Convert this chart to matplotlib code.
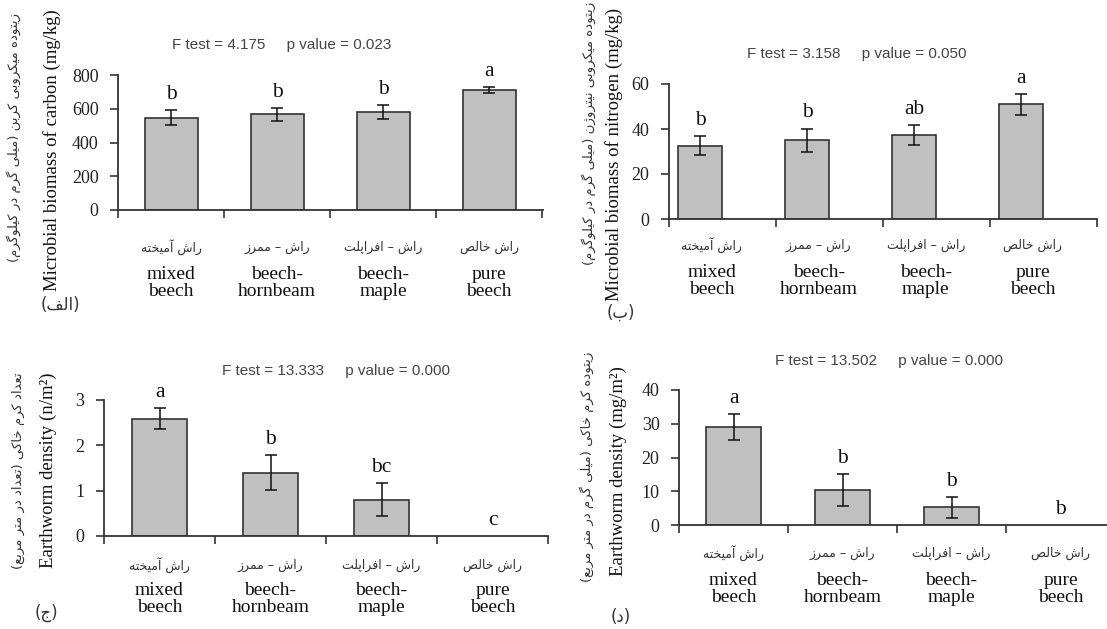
import numpy as np
import matplotlib
matplotlib.use("Agg")
import matplotlib.pyplot as plt
import matplotlib.transforms as mtransforms

## data
groups_en = ["mixed\nbeech", "beech-\nhornbeam", "beech-\nmaple", "pure\nbeech"]
groups_fa = ["راش آمیخته", "راش – ممرز", "راش – افراپلت", "راش خالص"]

carbon = [547, 567, 581, 712]
carbon_err = [45, 38, 40, 18]
carbon_letters = ["b", "b", "b", "a"]

nitrogen = [32.6, 35.1, 37.2, 51.0]
nitrogen_err = [4.2, 5.1, 4.5, 4.6]
nitrogen_letters = ["b", "b", "ab", "a"]

density = [2.59, 1.40, 0.80, 0.0]
density_err = [0.24, 0.39, 0.36, 0.0]
density_letters = ["a", "b", "bc", "c"]

worm_mass = [29.1, 10.4, 5.3, 0.0]
worm_mass_err = [3.9, 4.7, 3.1, 0.0]
worm_mass_letters = ["a", "b", "b", "b"]

ftests = ["F test = 4.175     p value = 0.023",
          "F test = 3.158     p value = 0.050",
          "F test = 13.333     p value = 0.000",
          "F test = 13.502     p value = 0.000"]

ylabels_en = ["Microbial biomass of carbon (mg/kg)",
              "Microbial biomass of nitrogen (mg/kg)",
              "Earthworm density (n/m²)",
              "Earthworm density (mg/m²)"]
ylabels_fa = ["زیتوده میکروبی کربن (میلی گرم در کیلوگرم)",
              "زیتوده میکروبی نیتروژن (میلی گرم در کیلوگرم)",
              "تعداد کرم خاکی (تعداد در متر مربع)",
              "زیتوده کرم خاکی (میلی گرم در متر مربع)"]
panel_tags = ["(الف)", "(ب)", "(ج)", "(د)"]

yticks = [[0, 200, 400, 600, 800], [0, 20, 40, 60], [0, 1, 2, 3], [0, 10, 20, 30, 40]]

## small persian shaper (matplotlib has no arabic shaping)
## forms: isolated, final, initial, medial
FORMS = {
    'ا': ('\uFE8D', '\uFE8E', None, None),
    'آ': ('\uFE81', '\uFE82', None, None),
    'ب': ('\uFE8F', '\uFE90', '\uFE91', '\uFE92'),
    'پ': ('\uFB56', '\uFB57', '\uFB58', '\uFB59'),
    'ت': ('\uFE95', '\uFE96', '\uFE97', '\uFE98'),
    'ج': ('\uFE9D', '\uFE9E', '\uFE9F', '\uFEA0'),
    'خ': ('\uFEA5', '\uFEA6', '\uFEA7', '\uFEA8'),
    'د': ('\uFEA9', '\uFEAA', None, None),
    'ر': ('\uFEAD', '\uFEAE', None, None),
    'ز': ('\uFEAF', '\uFEB0', None, None),
    'ژ': ('\uFB8A', '\uFB8B', None, None),
    'ش': ('\uFEB5', '\uFEB6', '\uFEB7', '\uFEB8'),
    'ص': ('\uFEB9', '\uFEBA', '\uFEBB', '\uFEBC'),
    'ع': ('\uFEC9', '\uFECA', '\uFECB', '\uFECC'),
    'ف': ('\uFED1', '\uFED2', '\uFED3', '\uFED4'),
    'ک': ('\uFB8E', '\uFB8F', '\uFB90', '\uFB91'),
    'گ': ('\uFB92', '\uFB93', '\uFB94', '\uFB95'),
    'ل': ('\uFEDD', '\uFEDE', '\uFEDF', '\uFEE0'),
    'م': ('\uFEE1', '\uFEE2', '\uFEE3', '\uFEE4'),
    'ن': ('\uFEE5', '\uFEE6', '\uFEE7', '\uFEE8'),
    'ه': ('\uFEE9', '\uFEEA', '\uFEEB', '\uFEEC'),
    'و': ('\uFEED', '\uFEEE', None, None),
    'ی': ('\uFBFC', '\uFBFD', '\uFBFE', '\uFBFF'),
}

def fa(text):
    out = []
    for i, ch in enumerate(text):
        if ch not in FORMS:
            out.append(ch)
            continue
        prev = text[i - 1] if i > 0 else ''
        nxt = text[i + 1] if i + 1 < len(text) else ''
        jp = prev in FORMS and FORMS[prev][2] is not None
        jn = FORMS[ch][2] is not None and nxt in FORMS
        iso, fin, ini, med = FORMS[ch]
        if jp and jn:
            out.append(med)
        elif jp:
            out.append(fin)
        elif jn:
            out.append(ini)
        else:
            out.append(iso)
    s = ''.join(reversed(out))
    return s.translate(str.maketrans('()', ')('))

## figure in pixel units
W, H = 1107, 629
fig = plt.figure(figsize=(W / 100, H / 100), dpi=100)

def fx(px):
    return px / W

def fy(py):
    return 1 - py / H

SERIF = "Liberation Serif"
SANS = "Liberation Sans"
FAFONT = "DejaVu Sans"

## layout per panel: left, right, top, bottom (px), category width (px), bar offset, bar width
panels = [
    dict(l=118, r=543, t=75, b=210, cw=106, off=0.0, bw=0.5,
         ft=(282, 45), fa_y=247, en_y=283, lab_fa=(14, 137), lab_en=(52, 150), tag=(60, 305), lab_off=0.0),
    dict(l=669, r=1097, t=84, b=219, cw=111, off=-0.21, bw=0.41,
         ft=(857, 54), fa_y=245, en_y=281, lab_fa=(589, 133), lab_en=(614, 154), tag=(621, 313), lab_off=-0.1),
    dict(l=104, r=548, t=400, b=536, cw=111, off=0.0, bw=0.5,
         ft=(336, 371), fa_y=565, en_y=599, lab_fa=(18, 471), lab_en=(48, 470), tag=(46, 613), lab_off=0.0),
    dict(l=679, r=1115, t=390, b=525, cw=109, off=0.0, bw=0.5,
         ft=(889, 361), fa_y=553, en_y=589, lab_fa=(587, 467), lab_en=(618, 471), tag=(621, 617), lab_off=0.0),
]

values = [carbon, nitrogen, density, worm_mass]
errors = [carbon_err, nitrogen_err, density_err, worm_mass_err]
letters = [carbon_letters, nitrogen_letters, density_letters, worm_mass_letters]

for k in range(4):
    p = panels[k]
    ax = fig.add_axes([fx(p['l']), fy(p['b']), fx(p['r'] - p['l']), (p['b'] - p['t']) / H])
    x = np.arange(4)
    v = np.array(values[k])
    e = np.array(errors[k])

    ## zero-height bars are not drawn in the original
    nz = v > 0
    ax.bar(x[nz] + p['off'], v[nz], width=p['bw'], color="#c0c0c0", edgecolor="#333333",
           linewidth=1.2, zorder=2)
    m = e > 0
    ax.errorbar(x[m] + p['off'], v[m], yerr=e[m], fmt="none", ecolor="#111111",
                elinewidth=1.1, capsize=4, capthick=1.1, zorder=3)

    for i in range(4):
        ax.annotate(letters[k][i], (x[i] + p['off'], v[i] + e[i]), xytext=(0, 8),
                    textcoords="offset points", ha="center", va="baseline",
                    fontsize=15.5, family=SERIF, color="#111111")

    ax.set_xlim(-0.5, -0.5 + (p['r'] - p['l']) / p['cw'])
    ax.set_ylim(0, yticks[k][-1])
    ax.set_yticks(yticks[k])
    ax.set_yticklabels([str(t) for t in yticks[k]], family=SERIF, fontsize=13, color="#222222")
    ax.set_xticks([-0.5, 0.5, 1.5, 2.5, 3.5])
    ax.set_xticklabels([])
    ax.tick_params(axis="y", direction="out", length=6, width=1.2, pad=8, color="#333333")
    ax.tick_params(axis="x", direction="out", length=6, width=1.2, color="#333333")
    for s in ["top", "right"]:
        ax.spines[s].set_visible(False)
    for s in ["left", "bottom"]:
        ax.spines[s].set_linewidth(1.3)
        ax.spines[s].set_color("#333333")

    ## category labels below axis
    tr = mtransforms.blended_transform_factory(ax.transData, fig.transFigure)
    for i in range(4):
        ax.text(x[i] + p['lab_off'], fy(p['fa_y']), fa(groups_fa[i]), transform=tr,
                ha="center", va="center", fontsize=9, family=FAFONT, color="#333333")
        ax.text(x[i] + p['lab_off'], fy(p['en_y']), groups_en[i], transform=tr,
                ha="center", va="center", fontsize=14, family=SERIF, color="#111111",
                linespacing=1.0)

    ## test statistic line
    fig.text(fx(p['ft'][0]), fy(p['ft'][1]), ftests[k], ha="center", va="center",
             fontsize=11, family=SANS, color="#444444")

    ## y labels (persian + english)
    fig.text(fx(p['lab_fa'][0]), fy(p['lab_fa'][1]), fa(ylabels_fa[k]), rotation=90,
             ha="center", va="center", fontsize=9.5, family=FAFONT, color="#333333")
    fig.text(fx(p['lab_en'][0]), fy(p['lab_en'][1]), ylabels_en[k], rotation=90,
             ha="center", va="center", fontsize=13.5, family=SERIF, color="#111111")

    ## panel tag
    fig.text(fx(p['tag'][0]), fy(p['tag'][1]), fa(panel_tags[k]), ha="center", va="center",
             fontsize=12, family=FAFONT, color="#333333")

fig.savefig("out.png", dpi=100)
